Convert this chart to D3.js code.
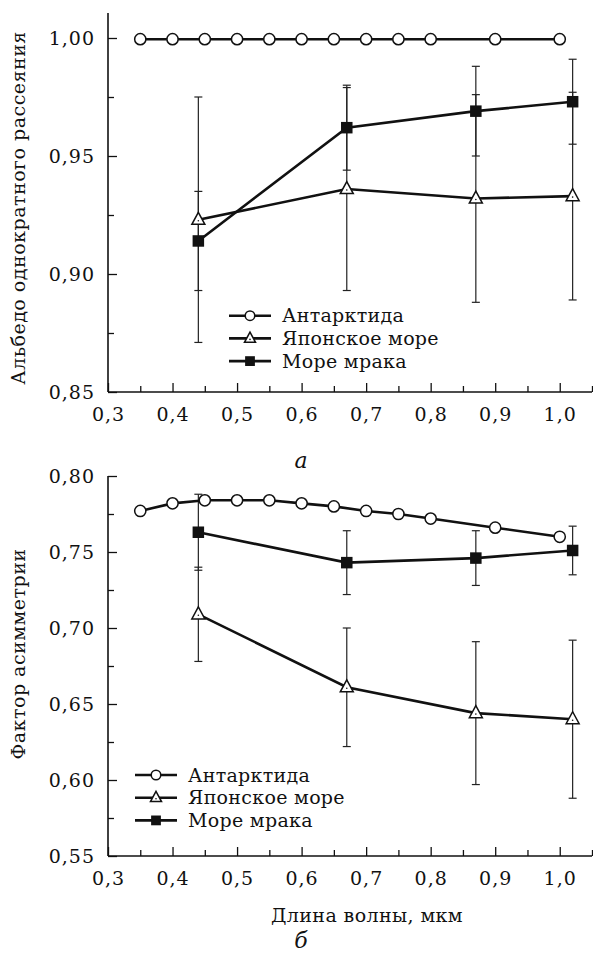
<!DOCTYPE html>
<html>
<head>
<meta charset="utf-8">
<script src="https://cdn.jsdelivr.net/npm/d3@7"></script>
<style>
  body { margin: 0; background: #fff; }
</style>
</head>
<body>
<svg id="chart" width="593" height="953"></svg>
<script>
// wavelengths, um
const antX = [0.35, 0.40, 0.45, 0.50, 0.55, 0.60, 0.65, 0.70, 0.75, 0.80, 0.90, 1.00];
const obsX = [0.44, 0.67, 0.87, 1.02];

// single scattering albedo
const antAlbedo = [0.9995, 0.9995, 0.9995, 0.9995, 0.9995, 0.9995, 0.9995, 0.9995, 0.9995, 0.9995, 0.9995, 0.9995];
const japanAlbedo = [0.923, 0.936, 0.932, 0.933];
const japanAlbedoErr = [0.052, 0.043, 0.044, 0.044];
const darkAlbedo = [0.914, 0.962, 0.969, 0.973];
const darkAlbedoErr = [0.021, 0.018, 0.019, 0.018];

// asymmetry factor
const antAsym = [0.777, 0.782, 0.784, 0.784, 0.784, 0.782, 0.780, 0.777, 0.775, 0.772, 0.766, 0.760];
const japanAsym = [0.709, 0.661, 0.644, 0.640];
const japanAsymErr = [0.031, 0.039, 0.047, 0.052];
const darkAsym = [0.763, 0.743, 0.746, 0.751];
const darkAsymErr = [0.025, 0.021, 0.018, 0.016];

const xTicks = [0.3, 0.4, 0.5, 0.6, 0.7, 0.8, 0.9, 1.0];
const albedoTicks = [0.85, 0.90, 0.95, 1.00];
const asymTicks = [0.55, 0.60, 0.65, 0.70, 0.75, 0.80];
const legendNames = ['Антарктида', 'Японское море', 'Море мрака'];

const FONT = 'DejaVu Serif';

const svg = d3.select('#chart');
const comma = (f) => (d) => d3.format(f)(d).replace('.', ',');

const x = d3.scaleLinear().domain([0.3, 1.05]).range([108, 592]);

function label(sel, size, spacing) {
    return sel.attr('font-family', FONT).attr('font-size', size)
        .style('letter-spacing', spacing + 'px').attr('fill', '#111');
}

function drawPanel(cfg) {
    const y = d3.scaleLinear().domain(cfg.yDomain).range(cfg.yRange);
    const g = svg.append('g');

    // axes, ticks point inward
    g.append('g').attr('transform', 'translate(108,0)')
        .call(d3.axisLeft(y).tickValues(cfg.yTicks).tickFormat(comma('.2f'))
            .tickSize(-9).tickSizeOuter(0).tickPadding(13));
    g.append('g').attr('transform', 'translate(108,0)')
        .call(d3.axisLeft(y).tickValues(cfg.yTicks.slice(0, -1).map(v => v + 0.025))
            .tickFormat('').tickSize(-6).tickSizeOuter(0));
    g.append('g').attr('transform', `translate(0,${cfg.yRange[0]})`)
        .call(d3.axisBottom(x).tickValues(xTicks).tickFormat(comma('.1f'))
            .tickSize(-9).tickSizeOuter(0).tickPadding(15.5));
    g.append('g').attr('transform', `translate(0,${cfg.yRange[0]})`)
        .call(d3.axisBottom(x).tickValues(xTicks.map(v => v + 0.05))
            .tickFormat('').tickSize(-6).tickSizeOuter(0));
    g.selectAll('.domain').remove();
    g.selectAll('.tick line').attr('stroke', '#111').attr('stroke-width', 1.3);
    label(g.selectAll('.tick text'), 19, 1);

    g.append('line').attr('x1', 108).attr('x2', 108)
        .attr('y1', y(cfg.yTop)).attr('y2', cfg.yRange[0])
        .attr('stroke', '#111').attr('stroke-width', 1.6);
    g.append('line').attr('x1', 108).attr('x2', x(1.05))
        .attr('y1', cfg.yRange[0]).attr('y2', cfg.yRange[0])
        .attr('stroke', '#111').attr('stroke-width', 1.6);

    // error bars
    const bars = [];
    cfg.series.forEach(s => {
        if (!s.err) return;
        s.xs.forEach((xv, i) => bars.push({ x: xv, lo: s.ys[i] - s.err[i], hi: s.ys[i] + s.err[i] }));
    });
    const eb = g.append('g').attr('stroke', '#222').attr('stroke-width', 1.2);
    eb.selectAll('.v').data(bars).enter().append('line')
        .attr('x1', d => x(d.x)).attr('x2', d => x(d.x))
        .attr('y1', d => y(d.lo)).attr('y2', d => y(d.hi));
    eb.selectAll('.lo').data(bars).enter().append('line')
        .attr('x1', d => x(d.x) - 4).attr('x2', d => x(d.x) + 4)
        .attr('y1', d => y(d.lo)).attr('y2', d => y(d.lo));
    eb.selectAll('.hi').data(bars).enter().append('line')
        .attr('x1', d => x(d.x) - 4).attr('x2', d => x(d.x) + 4)
        .attr('y1', d => y(d.hi)).attr('y2', d => y(d.hi));

    // lines
    const line = d3.line().x(d => x(d[0])).y(d => y(d[1]));
    cfg.series.forEach(s => {
        g.append('path').datum(s.xs.map((xv, i) => [xv, s.ys[i]]))
            .attr('d', line).attr('fill', 'none')
            .attr('stroke', '#111').attr('stroke-width', 2.6);
    });

    // markers
    cfg.series.forEach(s => {
        s.xs.forEach((xv, i) => drawMarker(g, s.marker, x(xv), y(s.ys[i]), 1));
    });

    // legend
    const lg = g.append('g');
    legendNames.forEach((name, i) => {
        const ly = cfg.legendY + i * 22.7;
        lg.append('line').attr('x1', cfg.legendX).attr('x2', cfg.legendX + 42)
            .attr('y1', ly).attr('y2', ly).attr('stroke', '#111').attr('stroke-width', 2.6);
        drawMarker(lg, ['circle', 'triangle', 'square'][i], cfg.legendX + 21, ly, 0.85);
        label(lg.append('text'), 19, 0.3).attr('x', cfg.legendX + 53).attr('y', ly)
            .attr('dy', '0.35em').text(name);
    });

    // panel letter
    label(g.append('text'), 22, 0).attr('x', 301).attr('y', cfg.letterY)
        .attr('text-anchor', 'middle').attr('font-style', 'italic').text(cfg.letter);

    // y title
    label(g.append('text'), 19, 0.5).attr('transform', `translate(25,${cfg.titleY}) rotate(-90)`)
        .attr('text-anchor', 'middle').text(cfg.title);
}

function drawMarker(g, type, cx, cy, k) {
    if (type === 'circle') {
        g.append('circle').attr('cx', cx).attr('cy', cy).attr('r', 5.6 * k)
            .attr('fill', '#fff').attr('stroke', '#111').attr('stroke-width', 1.5);
    } else if (type === 'square') {
        const s = 11.5 * k;
        g.append('rect').attr('x', cx - s / 2).attr('y', cy - s / 2).attr('width', s).attr('height', s)
            .attr('fill', '#111');
    } else {
        const h = 12 * k, w = 13 * k;
        g.append('path')
            .attr('d', `M${cx},${cy - h * 0.62}L${cx + w / 2},${cy + h * 0.38}L${cx - w / 2},${cy + h * 0.38}Z`)
            .attr('fill', '#fff').attr('stroke', '#111').attr('stroke-width', 1.5);
        g.append('circle').attr('cx', cx).attr('cy', cy + 1).attr('r', 0.8).attr('fill', '#111');
    }
}

svg.append('rect').attr('width', 593).attr('height', 953).attr('fill', '#fff');

drawPanel({
    yDomain: [0.85, 1.00], yRange: [392, 38], yTop: 1.0106, yTicks: albedoTicks,
    series: [
        { xs: antX, ys: antAlbedo, marker: 'circle' },
        { xs: obsX, ys: japanAlbedo, err: japanAlbedoErr, marker: 'triangle' },
        { xs: obsX, ys: darkAlbedo, err: darkAlbedoErr, marker: 'square' }
    ],
    legendX: 229, legendY: 315.7,
    letter: 'а', letterY: 468,
    title: 'Альбедо однократного рассеяния', titleY: 208
});

drawPanel({
    yDomain: [0.55, 0.80], yRange: [856, 476], yTop: 0.80, yTicks: asymTicks,
    series: [
        { xs: antX, ys: antAsym, marker: 'circle' },
        { xs: obsX, ys: japanAsym, err: japanAsymErr, marker: 'triangle' },
        { xs: obsX, ys: darkAsym, err: darkAsymErr, marker: 'square' }
    ],
    legendX: 135, legendY: 775,
    letter: 'б', letterY: 948,
    title: 'Фактор асимметрии', titleY: 654
});

// x title (bottom panel only)
label(svg.append('text'), 19, 0.4).attr('x', 367).attr('y', 922)
    .attr('text-anchor', 'middle').text('Длина волны, мкм');
</script>
</body>
</html>
